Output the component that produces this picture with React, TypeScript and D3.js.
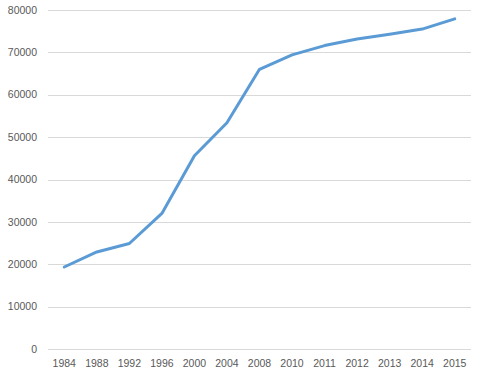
import React from "react";
import * as d3 from "d3";

const years = ["1984", "1988", "1992", "1996", "2000", "2004", "2008", "2010", "2011", "2012", "2013", "2014", "2015"];
const values = [19350, 22900, 24900, 32000, 45600, 53400, 66000, 69400, 71600, 73150, 74300, 75500, 77900];
const yTicks = [0, 10000, 20000, 30000, 40000, 50000, 60000, 70000, 80000];

const W = 483;
const H = 376;
const left = 48;
const right = 471;
const top = 10;
const bottom = 349;

export default function App() {
  const x = d3.scaleBand<string>().domain(years).range([left, right]);
  const y = d3.scaleLinear().domain([0, 80000]).range([bottom, top]);
  const line = d3
    .line<number>()
    .x((_, i) => (x(years[i]) as number) + x.bandwidth() / 2)
    .y((d) => y(d));
  const font = "'Liberation Sans', Arial, sans-serif";
  return (
    <svg
      width={W}
      height={H}
      style={{ position: "absolute", left: 0, top: 0, background: "#fff" }}
      fontFamily={font}
    >
      {yTicks.map((t) => (
        <g key={t}>
          <line x1={left} x2={right} y1={Math.round(y(t)) + 0.5} y2={Math.round(y(t)) + 0.5} stroke="#d9d9d9" strokeWidth={1} />
          <text x={37} y={y(t)} dy="0.35em" textAnchor="end" fontSize={10.5} fill="#595959">
            {t}
          </text>
        </g>
      ))}
      {years.map((yr) => (
        <text
          key={yr}
          x={(x(yr) as number) + x.bandwidth() / 2}
          y={363}
          dy="0.35em"
          textAnchor="middle"
          fontSize={10.5}
          fill="#595959"
        >
          {yr}
        </text>
      ))}
      <path d={line(values) || ""} fill="none" stroke="#5b9bd5" strokeWidth={3} strokeLinejoin="round" strokeLinecap="round" />
    </svg>
  );
}
